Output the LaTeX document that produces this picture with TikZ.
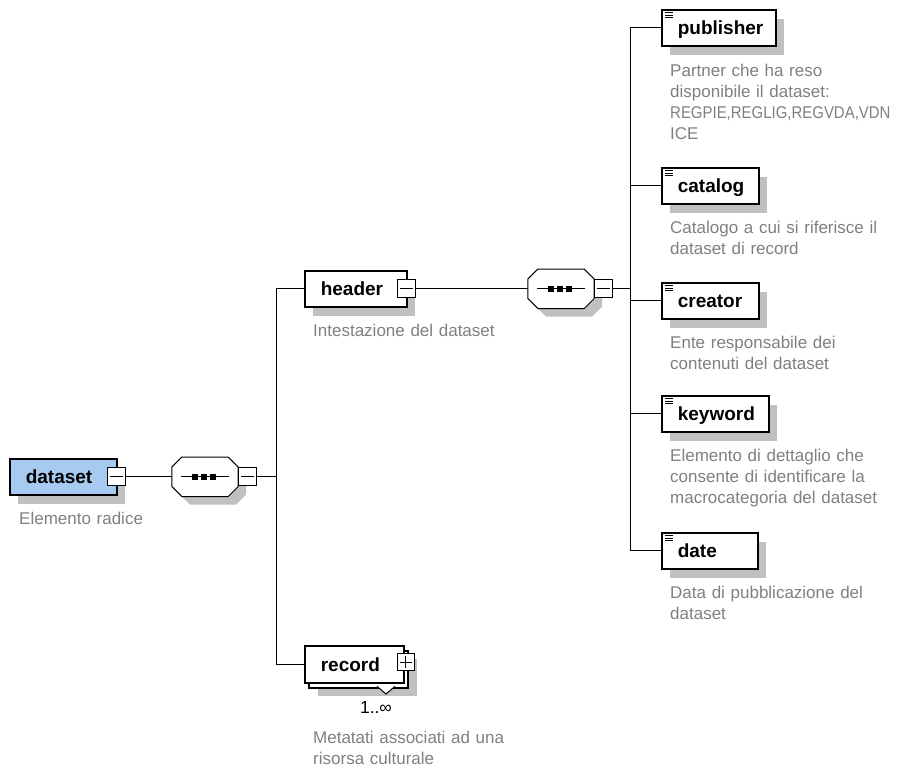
\documentclass[tikz,border=0pt]{standalone}
\usepackage{fontspec}
\setmainfont{Liberation Sans}
\usetikzlibrary{calc}
\definecolor{rootblue}{RGB}{166,202,240}
\definecolor{shadowgray}{RGB}{192,192,192}
\definecolor{descgray}{RGB}{128,128,128}

% octagonal outline of a sequence compositor, chamfered by 10pt
\newcommand{\seqoutline}[2][]{%
  \path[#1] ([xshift=10pt]#2.north west) -- ([xshift=-10pt]#2.north east)
    -- ([yshift=-10pt]#2.north east) -- ([yshift=10pt]#2.south east)
    -- ([xshift=-10pt]#2.south east) -- ([xshift=10pt]#2.south west)
    -- ([yshift=10pt]#2.south west) -- ([yshift=-10pt]#2.north west) -- cycle;}
% the three-dot sequence symbol inside it
\newcommand{\seqsymbol}[1]{%
  \draw[line width=1pt] ([xshift=-24pt]#1.center) -- ([xshift=24pt]#1.center);
  \foreach \dx in {-13,-4,5}
    \fill[black] ([xshift=\dx pt,yshift=-3pt]#1.center) rectangle ++(6pt,6pt);}

\begin{document}
\begin{tikzpicture}[x=1pt,y=-1pt,
  conn/.style={line width=1pt},
  % plain element box, label left aligned
  box/.style={draw, line width=1.6pt, fill=white, minimum height=36pt,
    inner xsep=16pt, inner ysep=0pt, text height=14pt, text depth=0pt,
    text width=#1, align=left, font=\bfseries\fontsize{19}{22}\selectfont,
    anchor=north west},
  castshadow/.style={preaction={fill=shadowgray, transform canvas={shift={(8pt,-9pt)}}}},
  elem/.style={box=#1, castshadow},
  % simple-type element with the small text icon in its corner
  leaf/.style={elem=#1, path picture={
      \foreach \k in {3,5.5,8}
        \draw[line width=0.9pt] ([xshift=3pt,yshift=-\k pt]path picture bounding box.north west) -- ++(8pt,0pt);}},
  expander/.style={draw, line width=1pt, fill=white, minimum size=18pt, inner sep=0pt,
    path picture={\draw[line width=1pt] ([xshift=2.5pt]path picture bounding box.west) -- ([xshift=-2.5pt]path picture bounding box.east);}},
  plusexp/.style={draw, line width=1pt, fill=white, minimum size=17pt, inner sep=0pt,
    path picture={\draw[line width=1pt] ([xshift=2.5pt]path picture bounding box.west) -- ([xshift=-2.5pt]path picture bounding box.east);
      \draw[line width=1pt] ([yshift=-2.5pt]path picture bounding box.north) -- ([yshift=2.5pt]path picture bounding box.south);}},
  % sequence compositor frame (outline drawn by \seqoutline)
  seq/.style={rectangle, minimum width=66pt, minimum height=39pt, inner sep=0pt},
  desc/.style={anchor=base west, inner sep=0pt, text width=240pt, align=left,
    font=\fontsize{17}{21}\selectfont, text=descgray},
]
\fill[white] (0,0) rectangle (899,771);
\useasboundingbox (0,0) rectangle (899,771);

\coordinate (bus1) at (276,0);
\coordinate (bus2) at (630,0);
\coordinate (col1) at (205,0);
\coordinate (col2) at (561,0);

% root element
\node[elem=75pt, fill=rootblue] (dataset) at (9,458) {dataset};
\node[expander] (datasetx) at ([xshift=-1.5pt]dataset.east) {};
\node[desc] (datasetd) at (19,524) {Elemento radice};

% first sequence
\node[seq] (seq1) at (dataset.east -| col1) {};
\seqoutline[fill=shadowgray, transform canvas={shift={(8pt,-8pt)}}]{seq1}
\seqoutline[draw, fill=white, line width=1pt]{seq1}
\seqsymbol{seq1}
\node[expander, anchor=west] (seq1x) at (seq1.east) {};

% header
\node[elem=70pt] (header) at (304,270) {header};
\node[expander] (headerx) at ([xshift=-1pt]header.east) {};
\node[desc] (headerd) at (313,336) {Intestazione del dataset};

% record, repeated element
\node[box=67pt, minimum height=37pt,
  preaction={fill=shadowgray, transform canvas={shift={(13pt,-13pt)}}},
  preaction={draw, line width=1.6pt, fill=white, transform canvas={shift={(4pt,-5pt)}}}]
  (record) at (304,645) {record};
\node[plusexp] (recordx) at ([shift={(1pt,2pt)}]record.east) {};
\fill[white] (377,686.3) -- (386,694) -- (395,686.3) -- cycle;
\draw[line width=1pt] (377,686.3) -- (386,694) -- (395,686.3);
\node[anchor=base, inner sep=0pt, font=\fontsize{17.5}{20}\selectfont] (recordm) at (376,713) {1..∞};
\node[desc] (recordd) at (313,743) {Metatati associati ad una\\risorsa culturale};

% second sequence
\node[seq] (seq2) at (header.east -| col2) {};
\seqoutline[fill=shadowgray, transform canvas={shift={(8pt,-8pt)}}]{seq2}
\seqoutline[draw, fill=white, line width=1pt]{seq2}
\seqsymbol{seq2}
\node[expander, anchor=west] (seq2x) at (seq2.east) {};

% header children
\node[leaf=82pt] (publisher) at (661,9) {publisher};
\node[desc] (publisherd) at (670,76) {Partner che ha reso\\disponibile il dataset:\\\scalebox{0.88}[1]{REGPIE,REGLIG,REGVDA,VDN}\\ICE};
\node[leaf=65pt] (catalog) at (661,167) {catalog};
\node[desc] (catalogd) at (670,233) {Catalogo a cui si riferisce il\\dataset di record};
\node[leaf=65pt] (creator) at (661,282) {creator};
\node[desc] (creatord) at (670,348) {Ente responsabile dei\\contenuti del dataset};
\node[leaf=75pt] (keyword) at (661,395) {keyword};
\node[desc] (keywordd) at (670,461) {Elemento di dettaglio che\\consente di identificare la\\macrocategoria del dataset};
\node[leaf=64pt] (date) at (661,532) {date};
\node[desc] (dated) at (670,598) {Data di pubblicazione del\\dataset};

% connectors
\draw[conn] (datasetx.east) -- (seq1.west);
\draw[conn] (seq1x.east) -- (seq1x.east -| bus1);
\draw[conn] (header.west -| bus1) -- (record.west -| bus1);
\draw[conn] (header.west -| bus1) -- (header.west);
\draw[conn] (record.west -| bus1) -- (record.west);
\draw[conn] (headerx.east) -- (seq2.west);
\draw[conn] (seq2x.east) -- (seq2x.east -| bus2);
\draw[conn] (publisher.west -| bus2) -- (date.west -| bus2);
\foreach \n in {publisher,catalog,creator,keyword,date}
  \draw[conn] (\n.west -| bus2) -- (\n.west);
\end{tikzpicture}
\end{document}
